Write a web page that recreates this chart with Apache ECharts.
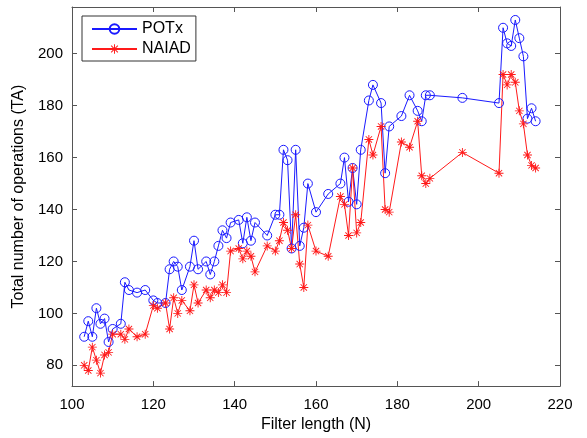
<!DOCTYPE html>
<html>
<head>
<meta charset="utf-8">
<script src="https://cdn.jsdelivr.net/npm/echarts@6/dist/echarts.min.js"></script>
<style>html,body{margin:0;padding:0;background:#fff}#c{width:587px;height:438px}</style>
</head>
<body>
<div id="c"></div>
<script>
const filterLength = [103,104,105,106,107,108,109,110,112,113,114,116,118,120,121,123,124,125,126,127,129,130,131,133,134,135,136,137,138,139,141,142,143,144,145,148,150,151,152,153,154,155,156,157,158,160,163,166,167,168,169,170,171,173,174,176,177,178,181,183,185,186,187,188,196,205,206,207,208,209,210,211,212,213,214];
const potx = [91,97,91,102,96,98,89,94,96,112,109,108,109,105,104,104,117,120,118,109,118,128,117,120,115,120,126,132,129,135,136,127,137,128,135,130,138,138,163,159,125,163,126,133,150,139,146,150,160,143,156,142,163,182,188,181,154,172,176,184,178,174,184,184,183,181,210,204,203,213,206,199,175,179,174];
const naiad = [80,78,87,82,77,84,85,92,92,90,94,91,92,103,102,104,94,106,100,105,101,111,104,109,106,109,108,111,108,124,125,121,124,122,116,126,124,128,135,132,125,138,119,110,134,124,122,145,142,130,156,131,135,167,161,172,140,139,166,164,174,153,150,152,162,154,192,188,192,189,178,173,161,157,156];
const xTicks = [100,120,140,160,180,200,220];
const yTicks = [80,100,120,140,160,180,200];

const FONT = 'Liberation Sans, Arial, Helvetica, sans-serif';
const AXC = '#555';
const star = 'path://M0 45 L100 45 L100 55 L0 55 Z M45 0 L55 0 L55 100 L45 100 Z M11.5 18.5 L18.5 11.5 L88.5 81.5 L81.5 88.5 Z M81.5 11.5 L88.5 18.5 L18.5 88.5 L11.5 81.5 Z';

const chart = echarts.init(document.getElementById('c'), null, {renderer: 'canvas'});
const baseAxis = {
  axisLine: {show: true, onZero: false, lineStyle: {color: AXC, width: 1}},
  axisTick: {show: true, inside: true, length: 5, lineStyle: {color: AXC}},
  splitLine: {show: false}
};
chart.setOption({
  animation: false,
  backgroundColor: '#fff',
  textStyle: {fontFamily: FONT},
  grid: {left: 72, right: 27, top: 7, bottom: 44, show: false},
  legend: {
    left: 82, top: 16, orient: 'vertical',
    padding: [5, 5, 4, 9], itemGap: 4, itemWidth: 45, itemHeight: 12,
    backgroundColor: '#fff', borderColor: '#333', borderWidth: 1, borderRadius: 0,
    textStyle: {fontFamily: FONT, fontSize: 16, color: '#000'},
    data: ['POTx', 'NAIAD']
  },
  xAxis: [
    Object.assign({}, baseAxis, {
      type: 'value', min: 100, max: 220, interval: 20, position: 'bottom',
      name: 'Filter length (N)', nameLocation: 'middle', nameGap: 30,
      nameTextStyle: {fontFamily: FONT, fontSize: 16, color: '#000'},
      axisLabel: {fontFamily: FONT, fontSize: 15, color: '#000', margin: 11}
    }),
    Object.assign({}, baseAxis, {
      type: 'value', min: 100, max: 220, interval: 20, position: 'top',
      axisLabel: {show: false}
    })
  ],
  yAxis: [
    Object.assign({}, baseAxis, {
      type: 'value', min: 72, max: 218, position: 'left',
      axisTick: {show: true, inside: true, length: 5, lineStyle: {color: AXC}, customValues: yTicks},
      axisLabel: {fontFamily: FONT, fontSize: 15, color: '#000', margin: 9, customValues: yTicks},
      name: 'Total number of operations (TA)', nameLocation: 'middle', nameGap: 34, nameRotate: 90,
      nameTextStyle: {fontFamily: FONT, fontSize: 16, color: '#000'}
    }),
    Object.assign({}, baseAxis, {
      type: 'value', min: 72, max: 218, position: 'right',
      axisTick: {show: true, inside: true, length: 5, lineStyle: {color: AXC}, customValues: yTicks},
      axisLabel: {show: false, customValues: yTicks}
    })
  ],
  series: [
    {
      name: 'POTx', type: 'line', xAxisIndex: 0, yAxisIndex: 0,
      data: filterLength.map((x, i) => [x, potx[i]]),
      symbol: 'circle', symbolSize: 9, showAllSymbol: true,
      itemStyle: {color: 'rgba(255,255,255,0)', borderColor: '#1a1aff', borderWidth: 1},
      lineStyle: {color: '#1a1aff', width: 1},
      emphasis: {disabled: true}
    },
    {
      name: 'NAIAD', type: 'line', xAxisIndex: 0, yAxisIndex: 0,
      data: filterLength.map((x, i) => [x, naiad[i]]),
      symbol: star, symbolSize: 9, showAllSymbol: true,
      itemStyle: {color: '#ff1a1a'},
      lineStyle: {color: '#ff1a1a', width: 1},
      emphasis: {disabled: true}
    }
  ]
});
</script>
</body>
</html>
